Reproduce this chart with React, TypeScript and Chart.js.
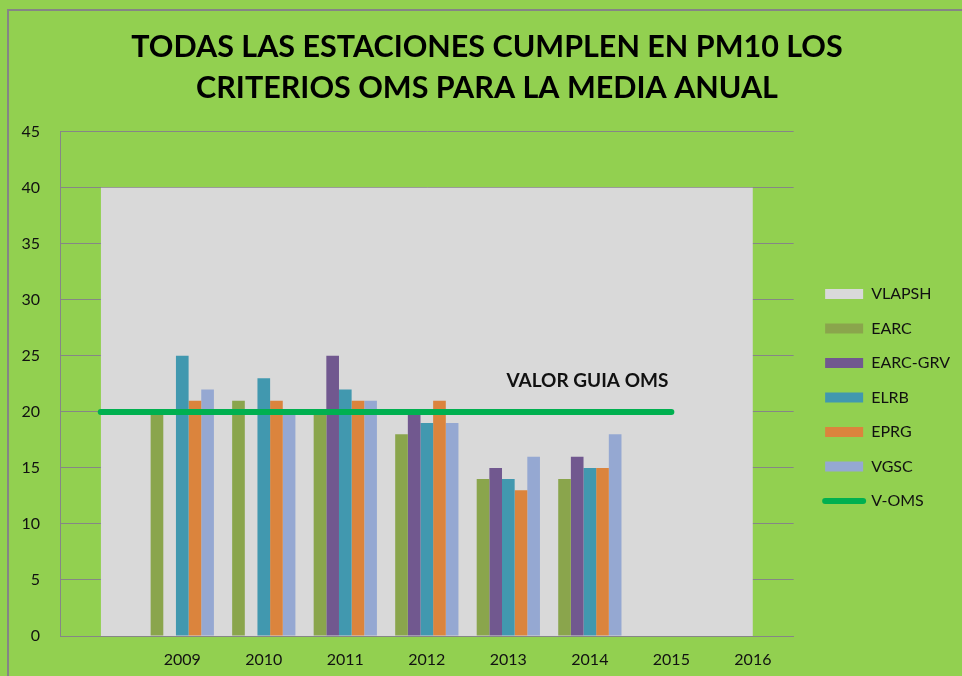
import React, { useEffect, useRef } from "react";
import { Chart, registerables } from "chart.js";

Chart.register(...registerables);

// ---- data ----
const categories = ["", "2009", "2010", "2011", "2012", "2013", "2014", "2015", "2016"];
const VLAPSH = [40, 40, 40, 40, 40, 40, 40, 40, 40];
const EARC = [null, 20, 21, 20, 18, 14, 14, null, null];
const EARC_GRV = [null, null, null, 25, 20, 15, 16, null, null];
const ELRB = [null, 25, 23, 22, 19, 14, 15, null, null];
const EPRG = [null, 21, 21, 21, 21, 13, 15, null, null];
const VGSC = [null, 22, 20, 21, 19, 16, 18, null, null];
const V_OMS = [20, 20, 20, 20, 20, 20, 20, 20, null];
const Y_MIN = 0;
const Y_MAX = 45;
const Y_STEP = 5;
const titleLines = ["TODAS LAS ESTACIONES CUMPLEN EN PM10 LOS", "CRITERIOS OMS PARA LA MEDIA ANUAL"];
const annotationText = "VALOR GUIA OMS";
const annotationCategoryIndex = 5.97;
const annotationValue = 22.8;

const FONT = "Lato";
const TEXT = "#111111";

const annotationPlugin = {
  id: "valorGuia",
  afterDatasetsDraw(chart: any) {
    const { ctx, scales } = chart;
    const x = scales.x;
    const y = scales.y;
    ctx.save();
    ctx.font = `bold 19px ${FONT}`;
    ctx.fillStyle = TEXT;
    ctx.textAlign = "center";
    ctx.textBaseline = "middle";
    ctx.fillText(annotationText, x.getPixelForValue(annotationCategoryIndex), y.getPixelForValue(annotationValue));
    ctx.restore();
  },
};

export default function App() {
  const ref = useRef<HTMLCanvasElement | null>(null);

  useEffect(() => {
    if (!ref.current) return;
    const chart = new Chart(ref.current, {
      type: "bar",
      data: {
        labels: categories,
        datasets: [
          {
            type: "line",
            label: "VLAPSH",
            data: VLAPSH,
            fill: "origin",
            backgroundColor: "#D9D9D9",
            borderColor: "#D9D9D9",
            borderWidth: 0,
            pointRadius: 0,
            order: 3,
          } as any,
          { label: "EARC", data: EARC, backgroundColor: "#8AA54C", order: 2 },
          { label: "EARC-GRV", data: EARC_GRV, backgroundColor: "#71588F", order: 2 },
          { label: "ELRB", data: ELRB, backgroundColor: "#4198AF", order: 2 },
          { label: "EPRG", data: EPRG, backgroundColor: "#DB843D", order: 2 },
          { label: "VGSC", data: VGSC, backgroundColor: "#95A8D2", order: 2 },
          {
            type: "line",
            label: "V-OMS",
            data: V_OMS,
            fill: false,
            borderColor: "#00B050",
            backgroundColor: "#00B050",
            borderWidth: 6,
            borderCapStyle: "round",
            pointRadius: 0,
            order: 1,
          } as any,
        ],
      },
      options: {
        responsive: false,
        animation: false,
        devicePixelRatio: 1,
        datasets: {
          bar: { barPercentage: 1, categoryPercentage: 0.776, borderWidth: 0 },
        },
        layout: { padding: { left: 14, right: 2, top: 0, bottom: 0 } },
        font: { family: FONT },
        plugins: {
          tooltip: { enabled: false },
          title: {
            display: true,
            text: titleLines,
            color: "#000000",
            font: { family: FONT, size: 30.5, weight: "bold", lineHeight: 1.34 },
            padding: { top: 27, bottom: 23 },
          },
          legend: {
            position: "right",
            align: "center",
            title: { display: true, text: "", padding: { top: 101, bottom: 0 }, font: { size: 15, lineHeight: 1.2 } },
            labels: {
              color: TEXT,
              font: { family: FONT, size: 16 },
              usePointStyle: true,
              pointStyleWidth: 38,
              boxHeight: 10,
              boxWidth: 38,
              padding: 18.5,
              sort: (a: any, b: any) => a.datasetIndex - b.datasetIndex,
              generateLabels: (c: any) => {
                const items = Chart.defaults.plugins.legend.labels.generateLabels(c);
                return items.map((it: any) => {
                  const ds: any = c.data.datasets[it.datasetIndex];
                  if (ds.label === "V-OMS") {
                    return { ...it, pointStyle: "line", strokeStyle: "#00B050", fillStyle: "#00B050", lineWidth: 6, lineCap: "round" };
                  }
                  return { ...it, pointStyle: "rect", fillStyle: ds.backgroundColor, strokeStyle: ds.backgroundColor, lineWidth: 0 };
                });
              },
            },
          },
        },
        scales: {
          x: {
            grid: { display: false, drawTicks: false },
            border: { display: true, color: "#868686", width: 1 },
            ticks: { color: TEXT, font: { family: FONT, size: 16 }, padding: 14, maxRotation: 0 },
            afterFit: (s: any) => {
              s.height = 40;
            },
          },
          y: {
            min: Y_MIN,
            max: Y_MAX,
            grid: { color: "#868686", drawTicks: false },
            border: { display: true, color: "#868686", width: 1 },
            ticks: { stepSize: Y_STEP, color: TEXT, font: { family: FONT, size: 16 }, padding: 20 },
            afterFit: (s: any) => {
              s.width = 46;
            },
          },
          gap: {
            position: "right",
            display: true,
            grid: { display: false, drawTicks: false },
            border: { display: false },
            ticks: { display: false },
            afterFit: (s: any) => {
              s.width = 13;
            },
          } as any,
        },
      },
      plugins: [annotationPlugin],
    });
    return () => chart.destroy();
  }, []);

  return (
    <div
      style={{
        position: "fixed",
        left: 0,
        top: 0,
        width: 962,
        height: 676,
        background: "#92D050",
        overflow: "hidden",
      }}
    >
      <div
        style={{
          position: "absolute",
          left: 7,
          top: 9,
          width: 1000,
          height: 1000,
          border: "2px solid #858585",
        }}
      />
      <canvas ref={ref} width={962} height={676} style={{ position: "absolute", left: 0, top: 0 }} />
    </div>
  );
}
